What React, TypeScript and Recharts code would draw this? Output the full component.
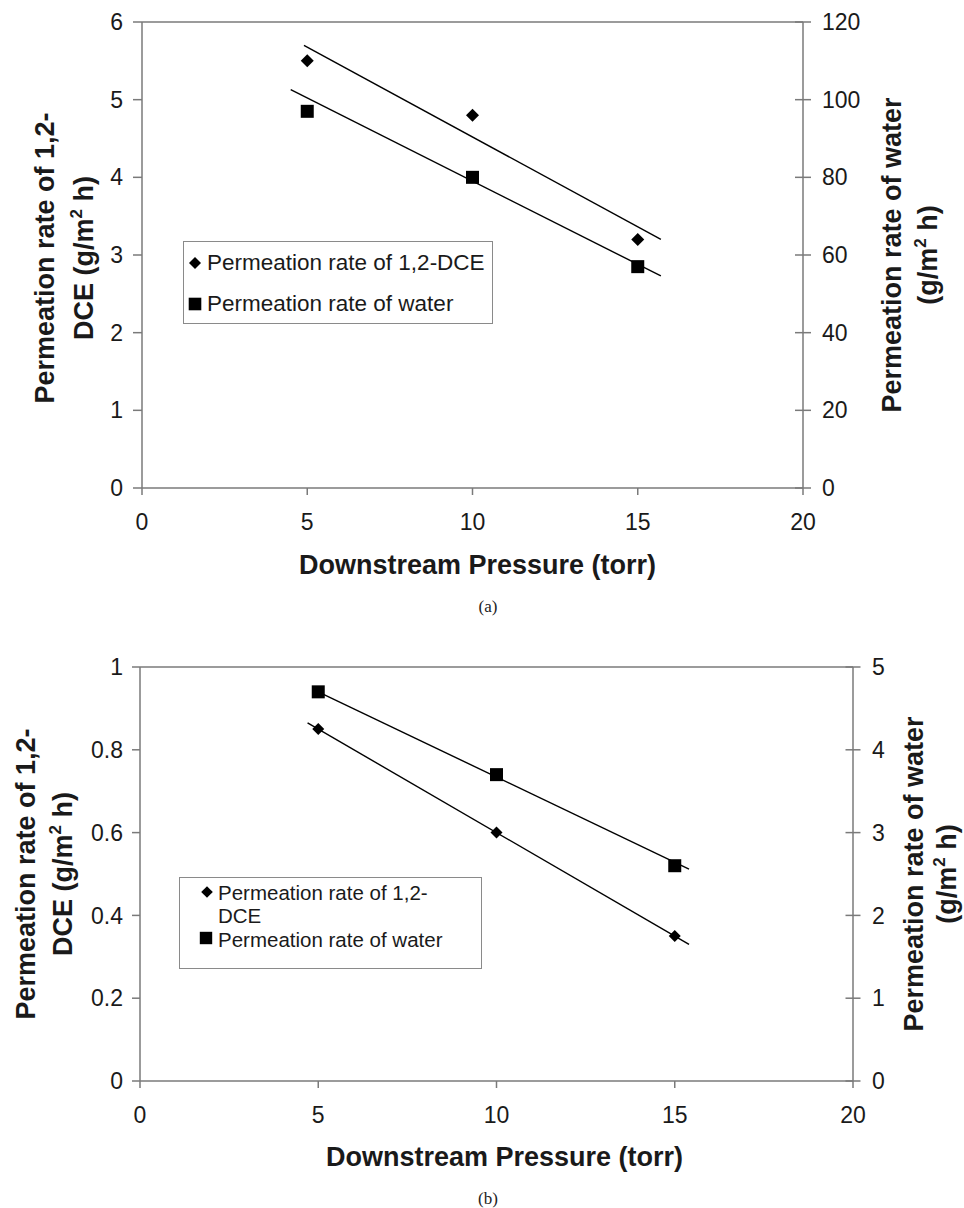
import React from 'react';
import { ComposedChart, XAxis, YAxis, Scatter, Line, ReferenceLine, Legend } from 'recharts';

// ---------- data ----------
const pressures = [5, 10, 15];
const xTicks = [0, 5, 10, 15, 20];
const seriesNames = ['Permeation rate of 1,2-DCE', 'Permeation rate of water'];

// panel (a)
const dceRateA = [5.5, 4.8, 3.2];
const waterRateA = [97, 80, 57];
const leftTicksA = [0, 1, 2, 3, 4, 5, 6];
const rightTicksA = [0, 20, 40, 60, 80, 100, 120];
const dceTrendXA = [4.9, 15.7];
const dceTrendYA = [5.7, 3.2];
const waterTrendXA = [4.5, 15.7];
const waterTrendYA = [102.6, 54.6];

// panel (b)
const dceRateB = [0.85, 0.6, 0.35];
const waterRateB = [4.7, 3.7, 2.6];
const leftTicksB = [0, 0.2, 0.4, 0.6, 0.8, 1];
const rightTicksB = [0, 1, 2, 3, 4, 5];
const dceTrendXB = [4.7, 15.4];
const dceTrendYB = [0.865, 0.33];
const waterTrendXB = [5, 15.4];
const waterTrendYB = [4.7, 2.56];

const toPoints = (xs: number[], ys: number[]) => xs.map((x, i) => ({ x, y: ys[i] }));

// ---------- styles ----------
const FONT = '"Liberation Sans", Arial, Helvetica, sans-serif';
const SERIF = '"Liberation Serif", "Times New Roman", serif';
const AXIS = '#7a7a7a';
const INK = '#1a1a1a';
const TICK_FS = 23;
const TITLE_FS = 27;

const DiamondShape = (props: any) => {
  const { cx, cy } = props;
  const r = props.r ?? 6.3;
  if (cx == null || cy == null) return null;
  return <polygon points={`${cx},${cy - r} ${cx + r},${cy} ${cx},${cy + r} ${cx - r},${cy}`} fill="#000" />;
};
const SquareShape = (props: any) => {
  const { cx, cy } = props;
  const r = props.r ?? 6.5;
  if (cx == null || cy == null) return null;
  return <rect x={cx - r} y={cy - r} width={2 * r} height={2 * r} fill="#000" />;
};

const makeRightTick = (offset: number, half: number) => (props: any) => {
  const { x, y, payload } = props;
  const ax = x - offset;
  return (
    <g>
      <line x1={ax - half} x2={ax + half} y1={y} y2={y} stroke={AXIS} strokeWidth={1.5} />
      <text x={x} y={y} dy="0.355em" textAnchor="start" fontSize={TICK_FS} fontFamily={FONT} fill={INK}>
        {payload.value}
      </text>
    </g>
  );
};

const Unit = ({ prefix }: { prefix: string }) => (
  <>
    {prefix}
    <tspan dy={-11} fontSize={17}>2</tspan>
    <tspan dy={11}> h)</tspan>
  </>
);

const makeYTitle = (line1: string, prefix2: string, b1: number, b2: number, dy: number) => (props: any) => {
  const vb = props.viewBox;
  const cy = vb.y + vb.height / 2 + dy;
  const common = { textAnchor: 'middle' as const, fontSize: TITLE_FS, fontWeight: 700, fontFamily: FONT, fill: INK };
  return (
    <g>
      <text transform={`translate(${vb.x + b1},${cy}) rotate(-90)`} {...common}>{line1}</text>
      <text transform={`translate(${vb.x + b2},${cy}) rotate(-90)`} {...common}>
        <Unit prefix={prefix2} />
      </text>
    </g>
  );
};

const makeXTitle = (dx: number, dyb: number) => (props: any) => {
  const vb = props.viewBox;
  return (
    <text x={vb.x + vb.width / 2 + dx} y={vb.y + dyb} textAnchor="middle" fontSize={TITLE_FS} fontWeight={700} fontFamily={FONT} fill={INK}>
      Downstream Pressure (torr)
    </text>
  );
};

const legendBox = { boxSizing: 'border-box' as const, border: '1px solid #8a8a8a', background: '#fff', fontFamily: FONT, color: INK, position: 'relative' as const };

const LegendA = () => (
  <div style={{ ...legendBox, fontSize: 22.5, width: 310, height: 83 }}>
    <div style={{ display: 'flex', alignItems: 'center', height: 41, whiteSpace: 'nowrap' }}>
      <svg width={23} height={16}><DiamondShape cx={11} cy={8} r={6} /></svg>
      <span>{seriesNames[0]}</span>
    </div>
    <div style={{ display: 'flex', alignItems: 'center', height: 41, whiteSpace: 'nowrap' }}>
      <svg width={23} height={16}><SquareShape cx={11} cy={8} r={6.3} /></svg>
      <span>{seriesNames[1]}</span>
    </div>
  </div>
);

const LegendB = () => {
  const line = (center: number, text: string) => (
    <div style={{ position: 'absolute', left: 38, top: center - 11.5, lineHeight: '23px', height: 23, whiteSpace: 'nowrap' }}>{text}</div>
  );
  return (
    <div style={{ ...legendBox, fontSize: 20.5, width: 303, height: 92 }}>
      <svg style={{ position: 'absolute', left: 17, top: 4 }} width={20} height={20}><DiamondShape cx={10} cy={10} r={5.8} /></svg>
      {line(14, 'Permeation rate of 1,2-')}
      {line(37.5, 'DCE')}
      <svg style={{ position: 'absolute', left: 16, top: 50 }} width={20} height={20}><SquareShape cx={10} cy={10} r={6.2} /></svg>
      {line(61, seriesNames[1])}
    </div>
  );
};

const tickStyle = { fill: INK, fontSize: TICK_FS, fontFamily: FONT };
const axisLineStyle = { stroke: AXIS, strokeWidth: 1.5 };

function PanelA() {
  return (
    <ComposedChart width={964} height={620} margin={{ top: 22, right: 0, left: 0, bottom: 92 }}>
      <XAxis type="number" dataKey="x" domain={[0, 20]} ticks={xTicks} interval={0} tickSize={7} tickMargin={19}
        axisLine={axisLineStyle} tickLine={axisLineStyle} tick={tickStyle} height={40} label={makeXTitle(5, 86)} />
      <YAxis yAxisId="left" type="number" dataKey="y" domain={[0, 6]} ticks={leftTicksA} interval={0} width={142}
        tickSize={9} tickMargin={10} axisLine={axisLineStyle} tickLine={axisLineStyle} tick={tickStyle}
        label={makeYTitle('Permeation rate of 1,2-', 'DCE (g/m', 54, 93, 3)} />
      <YAxis yAxisId="right" orientation="right" type="number" dataKey="y" domain={[0, 120]} ticks={rightTicksA} interval={0}
        width={161} tickSize={8} tickMargin={11} axisLine={axisLineStyle} tickLine={false} tick={makeRightTick(19, 8)}
        label={makeYTitle('Permeation rate of water', '(g/m', 98, 134, 0)} />
      <ReferenceLine yAxisId="left" y={6} stroke={AXIS} strokeWidth={1.5} />
      <Line yAxisId="left" data={toPoints(dceTrendXA, dceTrendYA)} dataKey="y" type="linear" stroke="#000" strokeWidth={1.4} dot={false} isAnimationActive={false} legendType="none" />
      <Line yAxisId="right" data={toPoints(waterTrendXA, waterTrendYA)} dataKey="y" type="linear" stroke="#000" strokeWidth={1.4} dot={false} isAnimationActive={false} legendType="none" />
      <Scatter yAxisId="left" name={seriesNames[0]} data={toPoints(pressures, dceRateA)} dataKey="y" shape={(p: any) => <DiamondShape {...p} r={6.5} />} isAnimationActive={false} />
      <Scatter yAxisId="right" name={seriesNames[1]} data={toPoints(pressures, waterRateA)} dataKey="y" shape={(p: any) => <SquareShape {...p} r={6.5} />} isAnimationActive={false} />
      <Legend layout="horizontal" verticalAlign="middle" align="center" content={() => <LegendA />}
        wrapperStyle={{ left: 183, top: 241, width: 310, height: 83 }} />
    </ComposedChart>
  );
}

function PanelB() {
  return (
    <ComposedChart width={964} height={588} margin={{ top: 47, right: 0, left: 0, bottom: 87 }}>
      <XAxis type="number" dataKey="x" domain={[0, 20]} ticks={xTicks} interval={0} tickSize={7} tickMargin={19}
        axisLine={axisLineStyle} tickLine={axisLineStyle} tick={tickStyle} height={40} label={makeXTitle(8, 85)} />
      <YAxis yAxisId="left" type="number" dataKey="y" domain={[0, 1]} ticks={leftTicksB} interval={0} width={140}
        tickSize={8} tickMargin={9} axisLine={axisLineStyle} tickLine={axisLineStyle} tick={tickStyle}
        label={makeYTitle('Permeation rate of 1,2-', 'DCE (g/m', 35, 72, 0)} />
      <YAxis yAxisId="right" orientation="right" type="number" dataKey="y" domain={[0, 5]} ticks={rightTicksB} interval={0}
        width={111} tickSize={8} tickMargin={11} axisLine={axisLineStyle} tickLine={false} tick={makeRightTick(19, 7.5)}
        label={makeYTitle('Permeation rate of water', '(g/m', 70, 103, 0)} />
      <ReferenceLine yAxisId="left" y={1} stroke={AXIS} strokeWidth={1.5} />
      <Line yAxisId="left" data={toPoints(dceTrendXB, dceTrendYB)} dataKey="y" type="linear" stroke="#000" strokeWidth={1.4} dot={false} isAnimationActive={false} legendType="none" />
      <Line yAxisId="right" data={toPoints(waterTrendXB, waterTrendYB)} dataKey="y" type="linear" stroke="#000" strokeWidth={1.4} dot={false} isAnimationActive={false} legendType="none" />
      <Scatter yAxisId="left" name={seriesNames[0]} data={toPoints(pressures, dceRateB)} dataKey="y" shape={(p: any) => <DiamondShape {...p} r={6} />} isAnimationActive={false} />
      <Scatter yAxisId="right" name={seriesNames[1]} data={toPoints(pressures, waterRateB)} dataKey="y" shape={(p: any) => <SquareShape {...p} r={6.5} />} isAnimationActive={false} />
      <Legend layout="horizontal" verticalAlign="middle" align="center" content={() => <LegendB />}
        wrapperStyle={{ left: 179, top: 257, width: 303, height: 92 }} />
    </ComposedChart>
  );
}

const captionStyle = (top: number): React.CSSProperties => ({
  position: 'absolute', left: 438, top, width: 100, textAlign: 'center', fontFamily: SERIF, fontSize: 17, lineHeight: '17px', color: '#222',
});

export default function App() {
  return (
    <div style={{ position: 'absolute', left: 0, top: 0, width: 964, height: 1208, background: '#fff', overflow: 'hidden' }}>
      <div style={{ position: 'absolute', left: 0, top: 0 }}>
        <PanelA />
      </div>
      <div style={captionStyle(598)}>(a)</div>
      <div style={{ position: 'absolute', left: 0, top: 620 }}>
        <PanelB />
      </div>
      <div style={captionStyle(1190)}>(b)</div>
    </div>
  );
}
